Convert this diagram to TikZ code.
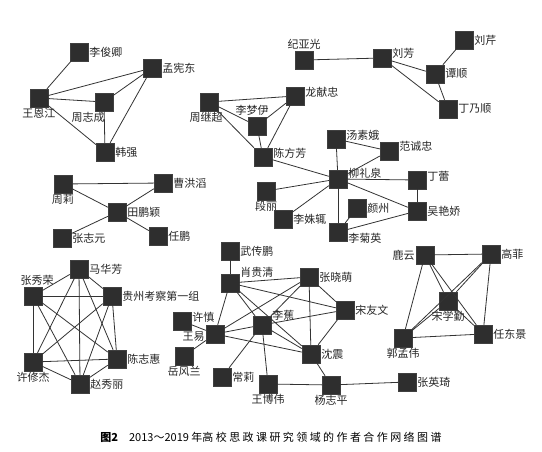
\documentclass[tikz,border=0pt]{standalone}
\usepackage{fontspec}
\setmainfont{Noto Sans CJK SC}

\begin{document}
\begin{tikzpicture}[x=1pt, y=-1pt, font=\fontsize{11}{13}\selectfont,
    zuozhe/.style={rectangle, draw=black!75, fill=black!82, minimum size=18pt,
        inner sep=0pt, label distance=3pt},
    every label/.style={inner sep=1pt, text=black!85},
    hezuo/.style={draw=black!80, line width=0.8pt}]

    \useasboundingbox[fill=white] (0,0) rectangle (542,452);

    % 王恩江一组
    \node[zuozhe, label=right:李俊卿] (lijq) at (79,52) {};
    \node[zuozhe, label=right:孟宪东] (mengxd) at (152,68) {};
    \node[zuozhe, label=below:王恩江] (wangej) at (39,98) {};
    \node[zuozhe, label={[xshift=-16pt]below:周志成}] (zhouzc) at (104,102) {};
    \node[zuozhe, label=right:韩强] (hanq) at (105,152) {};

    % 刘芳一组
    \node[zuozhe, label=above:纪亚光] (jiyg) at (304,60) {};
    \node[zuozhe, label={[yshift=5pt]right:刘芳}] (liuf) at (382,58) {};
    \node[zuozhe, label=right:刘芹] (liuq) at (464,40) {};
    \node[zuozhe, label=right:谭顺] (tans) at (435,74) {};
    \node[zuozhe, label=right:丁乃顺] (dingns) at (448,109) {};

    % 陈方芳、柳礼泉一组
    \node[zuozhe, label={[xshift=-3pt]below:周继超}] (zhoujc) at (209,102) {};
    \node[zuozhe, label={[yshift=4pt]right:龙献忠}] (longxz) at (295,96) {};
    \node[zuozhe, label={[xshift=-5pt]above:李梦伊}] (limy) at (257,126) {};
    \node[zuozhe, label={[yshift=4pt]right:陈方芳}] (chenff) at (263,157) {};
    \node[zuozhe, label={[yshift=4pt]right:汤素娥}] (tangse) at (336,139) {};
    \node[zuozhe, label={[yshift=5pt]right:范诚忠}] (fancz) at (389,151) {};
    \node[zuozhe, label={[yshift=6pt]right:柳礼泉}] (liulq) at (338,179) {};
    \node[zuozhe, label={[yshift=4pt]right:丁蕾}] (dingl) at (417,180) {};
    \node[zuozhe, label=right:吴艳娇] (wuyj) at (417,211) {};
    \node[zuozhe, label=right:颜州] (yanz) at (357,208) {};
    \node[zuozhe, label={[yshift=-6pt]right:李菊英}] (lijy) at (338,232) {};
    \node[zuozhe, label=below:段丽] (duanl) at (266,191) {};
    \node[zuozhe, label=right:李姝辄] (lisz) at (283,219) {};

    % 田鹏颖一组
    \node[zuozhe, label=below:周莉] (zhoul) at (63,184) {};
    \node[zuozhe, label=right:曹洪滔] (caoht) at (163,183) {};
    \node[zuozhe, label=right:田鹏颖] (tianpy) at (117,212) {};
    \node[zuozhe, label=right:张志元] (zhangzy) at (62,238) {};
    \node[zuozhe, label=right:任鹏] (renp) at (158,236) {};

    % 贵州考察第一组
    \node[zuozhe, label=right:马华芳] (mahf) at (79,269) {};
    \node[zuozhe, label={[xshift=4pt]above:张秀荣}] (zhangxr) at (33,296) {};
    \node[zuozhe, label=right:贵州考察第一组] (guizhou) at (112,296) {};
    \node[zuozhe, label=below:许修杰] (xuxj) at (33,362) {};
    \node[zuozhe, label=right:陈志惠] (chenzh) at (117,359) {};
    \node[zuozhe, label=right:赵秀丽] (zhaoxl) at (80,384) {};

    % 李蕉、王易一组
    \node[zuozhe, label=right:武传鹏] (wucp) at (230,251) {};
    \node[zuozhe, label={[yshift=11pt]right:肖贵清}] (xiaogq) at (230,283) {};
    \node[zuozhe, label=right:张晓萌] (zhangxm) at (309,277) {};
    \node[zuozhe, label=right:宋友文] (songyw) at (345,310) {};
    \node[zuozhe, label={[yshift=4pt]right:许慎}] (xus) at (182,321) {};
    \node[zuozhe, label={[yshift=-3pt]left:王易}] (wangy) at (215,334) {};
    \node[zuozhe, label={[yshift=10pt]right:李蕉}] (lij) at (262,325) {};
    \node[zuozhe, label=below:岳风兰] (yuefl) at (184,356) {};
    \node[zuozhe, label=right:常莉] (changl) at (222,377) {};
    \node[zuozhe, label=below:王博伟] (wangbw) at (268,384) {};
    \node[zuozhe, label=right:沈震] (shenz) at (311,354) {};
    \node[zuozhe, label=below:杨志平] (yangzp) at (331,385) {};
    \node[zuozhe, label=right:张英琦] (zhangyq) at (407,382) {};

    % 宋学勤一组
    \node[zuozhe, label=left:鹿云] (luy) at (425,255) {};
    \node[zuozhe, label=right:高菲] (gaof) at (491,254) {};
    \node[zuozhe, label=below:宋学勤] (songxq) at (448,301) {};
    \node[zuozhe, label=below:郭孟伟] (guomw) at (403,338) {};
    \node[zuozhe, label=right:任东景] (rendj) at (483,334) {};

    % 合作关系
    \foreach \a/\b in {lijq/wangej, wangej/mengxd, wangej/zhouzc, wangej/hanq,
        zhouzc/mengxd, zhouzc/hanq, mengxd/hanq,
        jiyg/liuf, liuf/tans, liuf/dingns, tans/liuq, tans/dingns,
        zhoujc/longxz, zhoujc/limy, zhoujc/chenff, limy/longxz, limy/chenff,
        longxz/chenff, chenff/liulq,
        liulq/tangse, liulq/fancz, tangse/fancz, liulq/dingl, liulq/wuyj,
        dingl/wuyj, liulq/duanl, liulq/lisz, liulq/lijy, lijy/yanz, lijy/wuyj,
        zhoul/caoht, zhoul/tianpy, tianpy/caoht, tianpy/zhangzy, tianpy/renp,
        mahf/zhangxr, mahf/guizhou, mahf/xuxj, mahf/chenzh, mahf/zhaoxl,
        zhangxr/guizhou, zhangxr/xuxj, zhangxr/chenzh, zhangxr/zhaoxl,
        guizhou/xuxj, guizhou/chenzh, guizhou/zhaoxl,
        xuxj/chenzh, xuxj/zhaoxl, chenzh/zhaoxl,
        wucp/xiaogq, xiaogq/zhangxm, xiaogq/songyw, xiaogq/lij, xiaogq/shenz,
        xiaogq/wangy, zhangxm/wangy, zhangxm/lij, zhangxm/shenz, zhangxm/songyw,
        lij/songyw, lij/wangy, lij/shenz, lij/changl, lij/wangbw,
        wangy/shenz, wangy/xus, wangy/yuefl, shenz/songyw, shenz/yangzp,
        wangbw/yangzp, yangzp/zhangyq,
        luy/gaof, luy/songxq, luy/guomw, luy/rendj, gaof/songxq, gaof/guomw,
        gaof/rendj, songxq/guomw, songxq/rendj, guomw/rendj}
        \draw[hezuo] (\a) -- (\b);

    \node (tuti) at (271,437)
        {{\bfseries 图2}\quad 2013～2019 年{\addfontfeature{LetterSpace=22}高校思政课研究领域的作者合作网络图谱}};

\end{tikzpicture}
\end{document}
